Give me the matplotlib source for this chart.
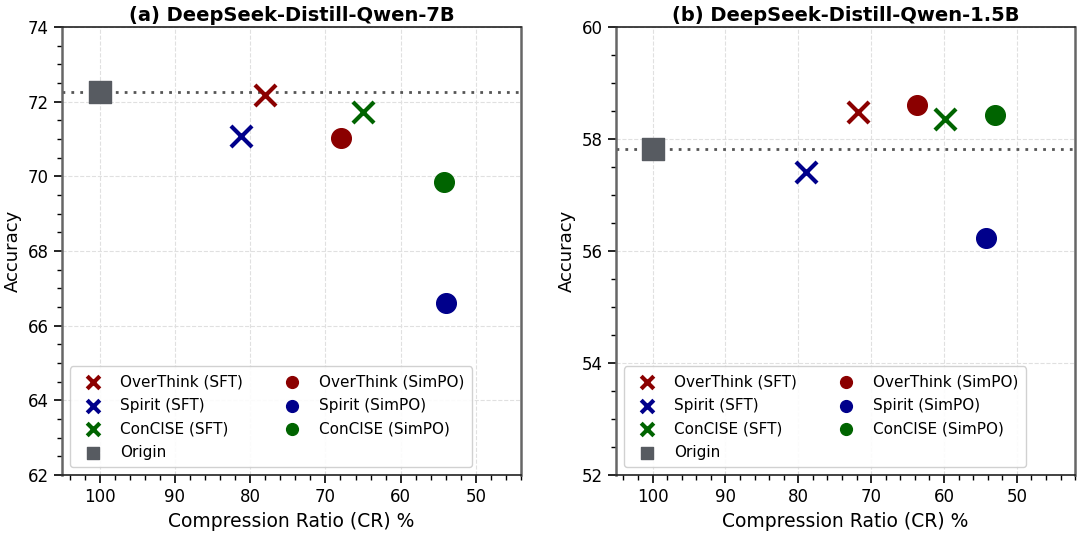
import matplotlib.pyplot as plt
from matplotlib.ticker import MultipleLocator

# data
methods = ["OverThink", "Spirit", "ConCISE"]
colors = ["#8b0000", "#00008b", "#006400"]

cr_7b_sft = [78.0, 81.2, 65.0]
acc_7b_sft = [72.18, 71.09, 71.73]
cr_7b_simpo = [67.9, 54.0, 54.2]
acc_7b_simpo = [71.02, 66.62, 69.86]
origin_7b = 72.27

cr_15b_sft = [71.8, 78.9, 59.9]
acc_15b_sft = [58.49, 57.41, 58.36]
cr_15b_simpo = [63.7, 54.3, 52.95]
acc_15b_simpo = [58.60, 56.24, 58.43]
origin_15b = 57.82

panels = [
    ("(a) DeepSeek-Distill-Qwen-7B", cr_7b_sft, acc_7b_sft, cr_7b_simpo, acc_7b_simpo, origin_7b, (62, 74), (105, 44)),
    ("(b) DeepSeek-Distill-Qwen-1.5B", cr_15b_sft, acc_15b_sft, cr_15b_simpo, acc_15b_simpo, origin_15b, (52, 60), (105, 42)),
]

fig = plt.figure(figsize=(10.79, 5.35), dpi=100)
lefts = [0.0575, 0.571]

for left, (title, cs, a_s, cp, a_p, orig, ylim, xlim) in zip(lefts, panels):
    ax = fig.add_axes([left, 0.112, 0.4254, 0.8375])
    h = []
    for i, m in enumerate(methods):
        h.append(ax.scatter(cs[i], a_s[i], marker="x", s=230, color=colors[i],
                            linewidths=3, zorder=3, label=m + " (SFT)"))
    ax.axhline(orig, color="#555555", linestyle=(0, (1, 2.2)), linewidth=2, zorder=2)
    h.append(ax.scatter(100, orig, marker="s", s=230, color="#575b61", zorder=3, label="Origin"))
    for i, m in enumerate(methods):
        h.append(ax.scatter(cp[i], a_p[i], marker="o", s=200, color=colors[i],
                            zorder=3, label=m + " (SimPO)"))

    ax.set_xlim(*xlim)
    ax.set_ylim(*ylim)
    ax.xaxis.set_major_locator(MultipleLocator(10))
    ax.xaxis.set_minor_locator(MultipleLocator(2))
    ax.yaxis.set_major_locator(MultipleLocator(2))
    ax.yaxis.set_minor_locator(MultipleLocator(0.5))
    ax.tick_params(which="major", length=6, width=1.2, labelsize=12, direction="out")
    ax.tick_params(which="minor", length=3.5, width=1, direction="out")
    ax.grid(True, which="major", linestyle="--", color="#e0e0e0", linewidth=0.8)
    ax.set_axisbelow(True)
    for side in ["left", "right"]:
        ax.spines[side].set_color("#666666")
        ax.spines[side].set_linewidth(1.8)
    for side in ["top", "bottom"]:
        ax.spines[side].set_color("#222222")
        ax.spines[side].set_linewidth(1.2)

    ax.set_title(title, fontsize=14, fontweight="bold", pad=4)
    ax.set_xlabel("Compression Ratio (CR) %", fontsize=13.5)
    ax.set_ylabel("Accuracy", fontsize=13)

    ax.legend(handles=h, loc="lower left", ncol=2, fontsize=11, markerscale=0.6,
              handletextpad=0.8, columnspacing=2.2, labelspacing=0.56,
              borderpad=0.5, framealpha=0.9, edgecolor="#cccccc")

fig.savefig("out.png", dpi=100)
plt.close()
